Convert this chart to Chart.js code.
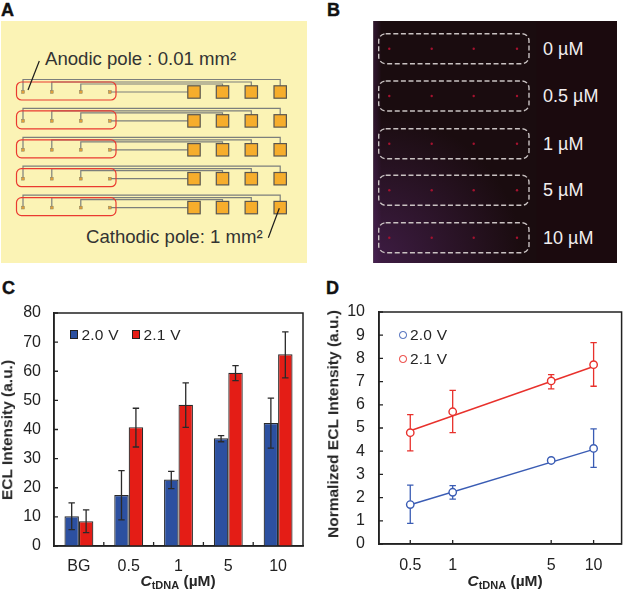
<!DOCTYPE html>
<html>

<head>
  <title>ECL Intensity</title>
  <script src="https://cdn.jsdelivr.net/npm/chart.js"></script>
  <style>
    body {
      margin: 0;
      background: #fff;
      width: 627px;
      height: 591px;
      overflow: hidden;
      position: relative;
      font-family: "Liberation Sans", Arial, sans-serif;
      color: #262626;
    }

    canvas,
    svg,
    .txt {
      position: absolute;
    }

    .txt {
      white-space: nowrap;
      line-height: 1;
    }

    .letter {
      font-size: 18px;
      font-weight: bold;
      color: #111;
      -webkit-text-stroke: 0.4px #111;
    }

    .title {
      font-size: 15.5px;
      font-weight: bold;
    }

    .title sub {
      font-size: 11px;
      vertical-align: -3px;
      line-height: 0;
    }

    .legend {
      font-size: 15.5px;
      letter-spacing: 0.2px;
    }

    .swatch {
      position: absolute;
      box-sizing: border-box;
    }
  </style>
</head>

<body>
  <svg id="panelA" style="left:0;top:0" width="320" height="270"></svg>
  <svg id="panelB" style="left:320px;top:0" width="307" height="270"></svg>
  <canvas id="barChart" style="left:0;top:300px" width="320" height="291"></canvas>
  <canvas id="lineChart" style="left:320px;top:300px" width="307" height="291"></canvas>

  <script>
    // panel C
    const barLabels = ['BG', '0.5', '1', '5', '10'];
    const bar20 = [10.2, 17.5, 22.8, 37, 42.2];
    const bar21 = [8.5, 40.8, 48.5, 59.5, 65.8];
    const bar20Low = [5.6, 9, 19.7, 35.8, 33.6];
    const bar20High = [14.8, 25.9, 25.6, 37.9, 50.8];
    const bar21Low = [4.6, 34, 40.7, 56.8, 57.7];
    const bar21High = [12.4, 47.3, 56, 61.9, 73.5];

    // panel D
    const conc = [0.5, 1, 5, 10];
    const norm20 = [1.7, 2.23, 3.6, 4.12];
    const norm21 = [4.8, 5.7, 7.03, 7.73];
    const norm20Low = [0.89, 1.93, 3.55, 3.3];
    const norm20High = [2.54, 2.52, 3.65, 4.96];
    const norm21Low = [4.01, 4.8, 6.69, 6.8];
    const norm21High = [5.58, 6.62, 7.3, 8.68];
    // straight fit lines through the points
    const fitConc = [0.5, 10];
    const fit20 = [1.69, 4.08];
    const fit21 = [4.88, 7.65];

    const seriesNames = ['2.0 V', '2.1 V'];
    const concNames = ['0 µM', '0.5 µM', '1 µM', '5 µM', '10 µM'];

    const BAR_BLUE = '#2c50a0';
    const BAR_RED = '#e41d16';
    const LINE_BLUE = '#3a5cb4';
    const LINE_RED = '#e8312c';
    const INK = '#222222';
    const FONT = '"Liberation Sans", Arial, sans-serif';

    function addText(html, left, top, cls, extra) {
      const el = document.createElement('div');
      el.className = 'txt ' + cls;
      el.innerHTML = html;
      el.style.cssText = `left:${left}px;top:${top}px;${extra || ''}`;
      document.body.appendChild(el);
      return el;
    }

    function addSwatch(left, top, size, css) {
      const el = document.createElement('div');
      el.className = 'swatch';
      el.style.cssText = `left:${left}px;top:${top}px;width:${size}px;height:${size}px;${css}`;
      document.body.appendChild(el);
    }

    function svgEl(parent, tag, attrs) {
      const el = document.createElementNS('http://www.w3.org/2000/svg', tag);
      Object.entries(attrs).forEach(([k, v]) => el.setAttribute(k, v));
      parent.appendChild(el);
      return el;
    }

    // Panel A: electrode layout
    const svgA = document.getElementById('panelA');
    svgEl(svgA, 'rect', { x: 1, y: 21, width: 306, height: 242, fill: '#fbf3b5' });
    const padX = [194, 222.5, 251.3, 280.2];
    const poleX = [23, 51.8, 80.8, 109.8];
    const riserY = [-12.5, -10, -8];
    for (let row = 0; row < 5; row++) {
      const y = 92 + row * 28.9;
      // wires from the poles to the pads
      const wire = { fill: 'none', stroke: '#7c7f7c', 'stroke-width': 1.2 };
      riserY.forEach((dy, i) => {
        svgEl(svgA, 'path', {
          ...wire,
          d: `M${poleX[i]} ${y} V${y + dy} H${padX[3 - i]} V${y - 6}`
        });
      });
      svgEl(svgA, 'path', { ...wire, d: `M${poleX[3]} ${y} H${padX[0]}` });
      padX.forEach(x => {
        svgEl(svgA, 'rect', {
          x: x - 6.2, y: y - 6.2, width: 12.4, height: 12.4,
          fill: '#f6ad2c', stroke: '#595650', 'stroke-width': 1.2
        });
      });
      poleX.forEach(x => {
        svgEl(svgA, 'rect', {
          x: x - 1.4, y: y - 1.4, width: 2.8, height: 2.8,
          fill: '#e2a13a', stroke: '#8a8060', 'stroke-width': 0.5
        });
      });
      svgEl(svgA, 'rect', {
        x: 16.5, y: y - 10, width: 99.5, height: 18, rx: 5,
        fill: 'none', stroke: '#ea3a30', 'stroke-width': 1.2
      });
    }
    svgEl(svgA, 'line', { x1: 39.3, y1: 61, x2: 28, y2: 90, stroke: '#1c1c1c', 'stroke-width': 1.2 });
    svgEl(svgA, 'line', { x1: 279.3, y1: 208.3, x2: 268.3, y2: 237.7, stroke: '#1c1c1c', 'stroke-width': 1.2 });
    addText('Anodic pole : 0.01 mm²', 45, 50, '', 'font-size:18.6px;color:#333');
    addText('Cathodic pole: 1 mm²', 86, 228, '', 'font-size:18.6px;color:#333');

    // Panel B: ECL image
    const svgB = document.getElementById('panelB');
    const defs = svgEl(svgB, 'defs', {});
    const glow = svgEl(defs, 'radialGradient', { id: 'glow', cx: 0, cy: 1, r: 1 });
    svgEl(glow, 'stop', { offset: '0%', 'stop-color': '#5c2a70', 'stop-opacity': 0.55 });
    svgEl(glow, 'stop', { offset: '100%', 'stop-color': '#5c2a70', 'stop-opacity': 0 });
    const edge = svgEl(defs, 'linearGradient', { id: 'edge' });
    svgEl(edge, 'stop', { offset: '0%', 'stop-color': '#4a2258', 'stop-opacity': 0.45 });
    svgEl(edge, 'stop', { offset: '100%', 'stop-color': '#4a2258', 'stop-opacity': 0 });
    svgEl(svgB, 'rect', { x: 53.5, y: 21, width: 243.5, height: 242, fill: '#1b0a0e' });
    svgEl(svgB, 'rect', { x: 53.5, y: 21, width: 163, height: 242, fill: '#1a0c0f' });
    svgEl(svgB, 'rect', { x: 53.5, y: 21, width: 8, height: 242, fill: 'url(#edge)' });
    svgEl(svgB, 'rect', { x: 53.5, y: 113, width: 150, height: 150, fill: 'url(#glow)' });
    const rowY = [48.7, 96, 143.7, 190.3, 237.7];
    const spotX = [69.3, 111.7, 153.7, 197];
    rowY.forEach((y, i) => {
      svgEl(svgB, 'rect', {
        x: 58.7, y: y - 15, width: 150.3, height: 30, rx: 7,
        fill: 'none', stroke: '#c9c2c2', 'stroke-width': 1.4, 'stroke-dasharray': '5 2.6'
      });
      spotX.forEach(x => {
        svgEl(svgB, 'circle', { cx: x, cy: y, r: 1.2, fill: '#a5122f' });
      });
      addText(concNames[i], 543, y - 9, '', 'font-size:18px;color:#f1eeee');
    });

    // panel letters
    addText('A', 1, 1, 'letter');
    addText('B', 327, 1, 'letter');
    addText('C', 2, 279, 'letter');
    addText('D', 326, 279, 'letter');

    // axis titles
    const xTitle = '<i>C</i><sub>tDNA</sub> (µM)';
    addText(xTitle, 140.5, 573, 'title');
    addText(xTitle, 467.5, 573, 'title');
    addText('ECL Intensity (a.u.)', 7, 429.5, 'title', 'transform:translate(-50%,-50%) rotate(-90deg)');
    addText('Normalized ECL Intensity (a.u.)', 333, 423.5, 'title', 'transform:translate(-50%,-50%) rotate(-90deg)');

    // legends
    addSwatch(69.5, 330, 8.5, `background:${BAR_BLUE};border:1.2px solid #222`);
    addText(seriesNames[0], 81.5, 327, 'legend');
    addSwatch(131.7, 330, 8.5, `background:${BAR_RED};border:1.2px solid #222`);
    addText(seriesNames[1], 143.5, 327, 'legend');
    addSwatch(399, 331, 7.5, `background:#fff;border-radius:50%;border:1.3px solid ${LINE_BLUE}`);
    addText(seriesNames[0], 410, 327, 'legend');
    addSwatch(399, 355, 7.5, `background:#fff;border-radius:50%;border:1.3px solid ${LINE_RED}`);
    addText(seriesNames[1], 410, 351, 'legend');

    function whisker(ctx, x, yLow, yHigh, cap, color) {
      ctx.strokeStyle = color;
      ctx.lineWidth = 1.3;
      ctx.beginPath();
      ctx.moveTo(x, yLow);
      ctx.lineTo(x, yHigh);
      ctx.moveTo(x - cap, yLow);
      ctx.lineTo(x + cap, yLow);
      ctx.moveTo(x - cap, yHigh);
      ctx.lineTo(x + cap, yHigh);
      ctx.stroke();
    }

    // Box round the plot with short inward tick marks
    function drawFrame(chart) {
      const { ctx, chartArea: a, scales } = chart;
      ctx.save();
      ctx.strokeStyle = INK;
      ctx.lineWidth = 1.5;
      ctx.beginPath();
      ctx.rect(a.left, a.top, a.right - a.left, a.bottom - a.top);
      ctx.stroke();
      ctx.lineWidth = 1.3;
      ctx.beginPath();
      scales.y.ticks.forEach(t => {
        const y = scales.y.getPixelForValue(t.value);
        ctx.moveTo(a.left, y);
        ctx.lineTo(a.left + 4, y);
      });
      const xs = scales.x.type === 'category'
        ? scales.x.ticks.slice(1).map((t, i) => (scales.x.getPixelForTick(i) + scales.x.getPixelForTick(i + 1)) / 2)
        : scales.x.ticks.map(t => scales.x.getPixelForValue(t.value));
      xs.forEach(x => {
        ctx.moveTo(x, a.bottom);
        ctx.lineTo(x, a.bottom - 4);
      });
      ctx.stroke();
      ctx.restore();
    }

    const barErrors = {
      id: 'barErrors',
      afterDatasetsDraw(chart) {
        const { ctx, scales } = chart;
        const sets = [[bar20Low, bar20High], [bar21Low, bar21High]];
        ctx.save();
        sets.forEach((s, d) => {
          chart.getDatasetMeta(d).data.forEach((bar, i) => {
            whisker(ctx, bar.x, scales.y.getPixelForValue(s[0][i]), scales.y.getPixelForValue(s[1][i]), 3.2, '#2a2a2a');
          });
        });
        ctx.restore();
        drawFrame(chart);
      }
    };

    // drawn before the points so the white markers hide the whisker
    const lineErrors = {
      id: 'lineErrors',
      beforeDatasetsDraw(chart) {
        const { ctx, scales } = chart;
        const sets = [[norm20Low, norm20High, LINE_BLUE], [norm21Low, norm21High, LINE_RED]];
        ctx.save();
        sets.forEach(s => {
          conc.forEach((c, i) => {
            whisker(ctx, scales.x.getPixelForValue(c), scales.y.getPixelForValue(s[0][i]), scales.y.getPixelForValue(s[1][i]), 3.2, s[2]);
          });
        });
        ctx.restore();
        drawFrame(chart);
      }
    };

    const tickFont = { family: FONT, size: 16 };

    // no overhang padding, the plot area has to sit at a fixed place
    function fitX(h) {
      return s => { s.height = h; s.paddingLeft = 0; s.paddingRight = 0; };
    }
    function fitY(w) {
      return s => { s.width = w; s.paddingTop = 0; s.paddingBottom = 0; };
    }

    new Chart(document.getElementById('barChart'), {
      type: 'bar',
      data: {
        labels: barLabels,
        datasets: [
          { label: seriesNames[0], data: bar20, backgroundColor: BAR_BLUE },
          { label: seriesNames[1], data: bar21, backgroundColor: BAR_RED }
        ]
      },
      options: {
        responsive: false,
        animation: false,
        layout: { padding: { top: 13, right: 17, left: 0, bottom: 0 } },
        datasets: {
          bar: {
            barPercentage: 1,
            categoryPercentage: 0.58,
            borderColor: '#2a2a2a',
            borderWidth: 1.2
          }
        },
        plugins: { legend: { display: false }, tooltip: { enabled: false } },
        scales: {
          x: {
            grid: { display: false, drawTicks: false },
            border: { display: true, color: INK, width: 1.5 },
            ticks: { font: tickFont, color: INK, padding: 11, maxRotation: 0 },
            afterFit: fitX(45)
          },
          y: {
            min: 0,
            max: 80,
            grid: { display: false, drawTicks: false },
            border: { display: true, color: INK, width: 1.5 },
            ticks: { font: tickFont, color: INK, padding: 13, stepSize: 10 },
            afterFit: fitY(54)
          }
        }
      },
      plugins: [barErrors]
    });

    const toPoints = (xs, ys) => xs.map((x, i) => ({ x: x, y: ys[i] }));
    const markerStyle = color => ({
      showLine: false,
      pointRadius: 3.7,
      pointBorderWidth: 1.4,
      pointBackgroundColor: '#fff',
      pointBorderColor: color
    });
    const fitStyle = color => ({
      showLine: true,
      pointRadius: 0,
      borderColor: color,
      borderWidth: 1.4
    });

    new Chart(document.getElementById('lineChart'), {
      type: 'scatter',
      data: {
        datasets: [
          { label: seriesNames[0], data: toPoints(conc, norm20), ...markerStyle(LINE_BLUE) },
          { label: seriesNames[1], data: toPoints(conc, norm21), ...markerStyle(LINE_RED) },
          { label: 'fit 2.0 V', data: toPoints(fitConc, fit20), ...fitStyle(LINE_BLUE) },
          { label: 'fit 2.1 V', data: toPoints(fitConc, fit21), ...fitStyle(LINE_RED) }
        ]
      },
      options: {
        responsive: false,
        animation: false,
        layout: { padding: { top: 12, right: 1, left: 0, bottom: 0 } },
        plugins: { legend: { display: false }, tooltip: { enabled: false } },
        scales: {
          x: {
            type: 'logarithmic',
            min: 0.319,
            max: 15.8,
            grid: { display: false, drawTicks: false },
            border: { display: true, color: INK, width: 1.5 },
            ticks: {
              font: tickFont,
              color: INK,
              padding: 12,
              maxRotation: 0,
              autoSkip: false,
              callback: v => String(v)
            },
            afterBuildTicks: s => { s.ticks = conc.map(v => ({ value: v })); },
            afterFit: fitX(47)
          },
          y: {
            min: 0,
            max: 10,
            grid: { display: false, drawTicks: false },
            border: { display: true, color: INK, width: 1.5 },
            ticks: { font: tickFont, color: INK, padding: 14, stepSize: 1 },
            afterFit: fitY(59)
          }
        }
      },
      plugins: [lineErrors]
    });
  </script>
</body>

</html>
